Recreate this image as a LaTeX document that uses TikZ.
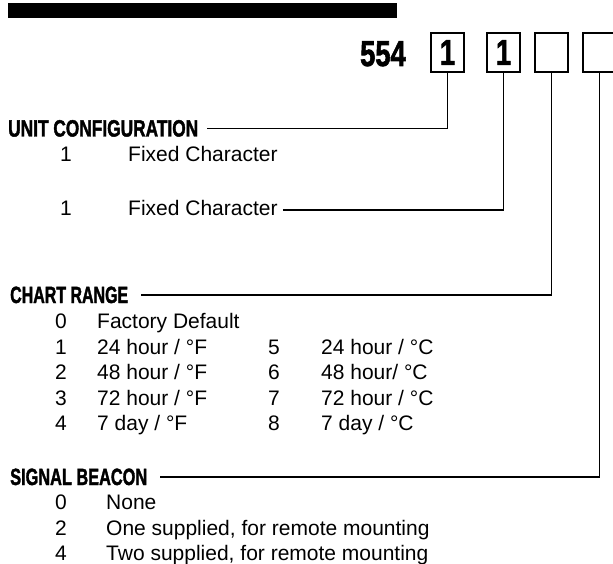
\documentclass[tikz,border=0pt]{standalone}
\usepackage{fontspec}
\setmainfont{Liberation Sans}
\newfontfamily\hdrfont[BoldFeatures={FakeBold=2}]{Liberation Sans}
\usepackage{graphicx}
\tikzset{
  item/.style={anchor=base west, inner sep=0pt, font=\fontsize{21}{25}\selectfont},
  hdr/.style={anchor=base west, inner sep=0pt},
  digitbox/.style={draw, line width=2.2pt, minimum width=33pt, minimum height=39pt, inner sep=0pt},
  leader/.style={line width=1.8pt},
}
\newcommand{\hdrtext}[2]{\resizebox{#1}{\height}{\fontsize{23.5}{24}\selectfont\hdrfont\bfseries #2}}
\newcommand{\bignum}[1]{\scalebox{0.76}[1]{\fontsize{36}{36}\selectfont\hdrfont\bfseries #1}}
\begin{document}
\begin{tikzpicture}[x=1pt,y=-1pt]
\useasboundingbox (0,0) rectangle (613,564);
% top bar
\node[fill=black, minimum width=389pt, minimum height=15pt, inner sep=0pt, anchor=north west] (bar) at (8,3) {};
% model code
\node[anchor=base east, inner sep=0pt] (code) at (406,66) {\bignum{554}};
\node[digitbox] (b1) at (447.5,52.5) {\bignum{1}};
\node[digitbox] (b2) at (503.5,52.5) {\bignum{1}};
\node[digitbox] (b3) at (551.5,52.5) {};
\node[digitbox] (b4) at (599.5,52.5) {};
% unit configuration
\node[hdr] (hUC) at (8,136.5) {\hdrtext{190pt}{UNIT CONFIGURATION}};
\node[item] (uc1n) at (60,162) {1};
\node[item] (uc1t) at (128,162) {Fixed Character};
\node[item] (uc2n) at (60,216) {1};
\node[item] (uc2t) at (128,216) {Fixed Character};
\draw[leader] ([xshift=9pt]hUC.east) -| (b1.south);
\draw[leader] ([xshift=5pt,yshift=6pt]uc2t.base east) -| (b2.south);
% chart range
\node[hdr] (hCR) at (10,303) {\hdrtext{118pt}{CHART RANGE}};
\draw[leader] ([xshift=13pt]hCR.east) -| (b3.south);
\node[item] (c0n) at (55,328) {0};
\node[item] (c0t) at (97,328) {Factory Default};
\node[item] (c1n) at (55,354) {1};
\node[item] (c1t) at (97,354) {24 hour / °F};
\node[item] (c2n) at (55,379.5) {2};
\node[item] (c2t) at (97,379.5) {48 hour / °F};
\node[item] (c3n) at (55,405) {3};
\node[item] (c3t) at (97,405) {72 hour / °F};
\node[item] (c4n) at (55,430.5) {4};
\node[item] (c4t) at (97,430.5) {7 day / °F};
\node[item] (c5n) at (268,354) {5};
\node[item] (c5t) at (321,354) {24 hour / °C};
\node[item] (c6n) at (268,379.5) {6};
\node[item] (c6t) at (321,379.5) {48 hour/ °C};
\node[item] (c7n) at (268,405) {7};
\node[item] (c7t) at (321,405) {72 hour / °C};
\node[item] (c8n) at (268,430.5) {8};
\node[item] (c8t) at (321,430.5) {7 day / °C};
% signal beacon
\node[hdr] (hSB) at (10,485) {\hdrtext{137pt}{SIGNAL BEACON}};
\draw[leader] ([xshift=13pt]hSB.east) -| (b4.south);
\node[item] (s0n) at (55,509.5) {0};
\node[item] (s0t) at (106,509.5) {None};
\node[item] (s2n) at (55,535) {2};
\node[item] (s2t) at (106,535) {One supplied, for remote mounting};
\node[item] (s4n) at (55,560.5) {4};
\node[item] (s4t) at (106,560.5) {Two supplied, for remote mounting};
\end{tikzpicture}
\end{document}
